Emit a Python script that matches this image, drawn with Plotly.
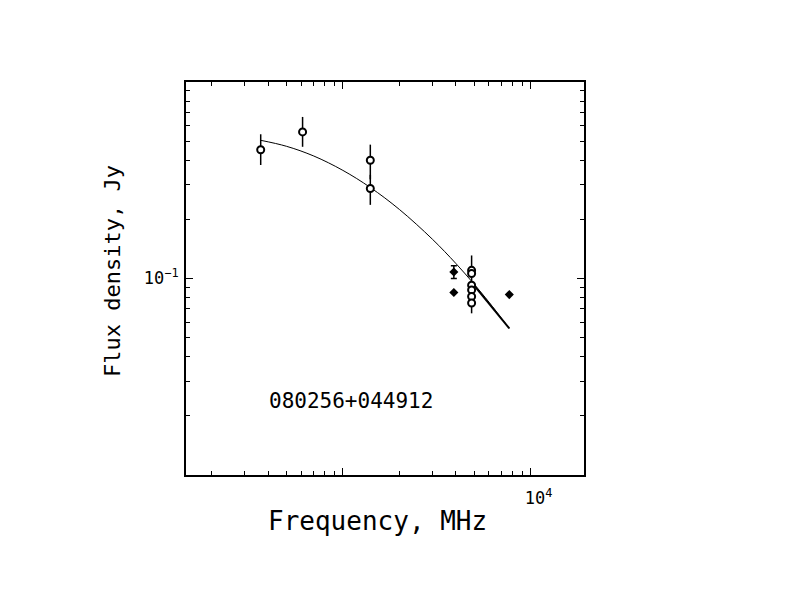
import plotly.graph_objects as go
import math

# Open-circle measurements (MHz, Jy)
circ_freq = [365, 610, 1400, 1400, 4850, 4850, 4850, 4850, 4850, 4850]
circ_flux = [0.452, 0.557, 0.400, 0.287, 0.110, 0.106, 0.0925, 0.0875, 0.081, 0.075]
circ_err_plus = [0.09, 0.107, 0.08, 0.05, 0, 0, 0.0385, 0, 0, 0]
circ_err_minus = [0.074, 0.089, 0.08, 0.05, 0, 0, 0.026, 0, 0, 0]

# Filled-diamond measurements
dia_freq = [3900, 3900, 7700]
dia_flux = [0.108, 0.0849, 0.0828]
dia_err = [0.008, 0, 0]

# Fitted curve
fit_freq = [365, 500, 700, 1000, 1400, 2000, 3000, 4000, 5000, 6000, 7700]
fit_flux = [0.505, 0.471, 0.420, 0.355, 0.2905, 0.2246, 0.1584, 0.1192, 0.0936, 0.0758, 0.0557]

# Straight high-frequency segment
seg_freq = [4900, 7700]
seg_flux = [0.0945, 0.0557]

x_major = [1000, 10000]
x_major_text = ["", "10<sup>4</sup>"]
x_minor = [200, 300, 400, 500, 600, 700, 800, 900,
           2000, 3000, 4000, 5000, 6000, 7000, 8000, 9000]
y_major = [0.01, 0.1, 1]
y_major_text = ["", "10<sup>\u22121</sup>", ""]
y_minor = [0.02, 0.03, 0.04, 0.05, 0.06, 0.07, 0.08, 0.09,
           0.2, 0.3, 0.4, 0.5, 0.6, 0.7, 0.8, 0.9]

source_name = "080256+044912"
x_title = "Frequency, MHz"
y_title = "Flux density, Jy"

FONT = "DejaVu Sans Mono"

fig = go.Figure()

fig.add_trace(go.Scatter(
    x=fit_freq, y=fit_flux, mode="lines", line=dict(color="black", width=1, shape="spline"),
    showlegend=False, hoverinfo="skip"))

fig.add_trace(go.Scatter(
    x=seg_freq, y=seg_flux, mode="lines", line=dict(color="black", width=2),
    showlegend=False, hoverinfo="skip"))

fig.add_trace(go.Scatter(
    x=circ_freq, y=circ_flux, mode="markers",
    marker=dict(symbol="circle", size=7, color="white", line=dict(color="black", width=2)),
    error_y=dict(type="data", symmetric=False, array=circ_err_plus, arrayminus=circ_err_minus,
                 color="black", thickness=1.5, width=0),
    showlegend=False))

fig.add_trace(go.Scatter(
    x=dia_freq, y=dia_flux, mode="markers",
    marker=dict(symbol="diamond", size=7, color="black"),
    error_y=dict(type="data", array=dia_err, color="black", thickness=1.5, width=3),
    showlegend=False))

fig.add_annotation(text=source_name, xref="paper", yref="paper", x=0.4146, y=0.188,
                   showarrow=False, font=dict(family=FONT, size=21, color="black"),
                   xanchor="center", yanchor="middle")
fig.add_annotation(text=x_title, xref="paper", yref="paper", x=0.48, y=-0.117,
                   showarrow=False, font=dict(family=FONT, size=26, color="black"),
                   xanchor="center", yanchor="middle")
fig.add_annotation(text=y_title, xref="paper", yref="paper", x=-0.186, y=0.519,
                   showarrow=False, textangle=-90, font=dict(family=FONT, size=22, color="black"),
                   xanchor="center", yanchor="middle")

axis_common = dict(
    type="log", showgrid=False, zeroline=False, showline=True, linecolor="black", linewidth=2,
    mirror="ticks", ticks="inside", ticklen=7, tickwidth=1, tickcolor="black",
    tickfont=dict(family=FONT, size=17, color="black"), tickmode="array",
)

fig.update_xaxes(
    **axis_common,
    range=[math.log10(146), math.log10(19250)],
    tickvals=x_major, ticktext=x_major_text,
    ticklabelstandoff=7, ticklabelshift=8,
    minor=dict(tickmode="array", tickvals=x_minor, ticks="inside", ticklen=4,
               tickcolor="black", tickwidth=1, showgrid=False),
)
fig.update_yaxes(
    **axis_common,
    range=[-2, 0],
    tickvals=y_major, ticktext=y_major_text,
    ticklabelstandoff=2,
    minor=dict(tickmode="array", tickvals=y_minor, ticks="inside", ticklen=4,
               tickcolor="black", tickwidth=1, showgrid=False),
)

fig.update_layout(
    width=792, height=612,
    margin=dict(l=178, r=216, t=74, b=145, autoexpand=False),
    paper_bgcolor="white", plot_bgcolor="white",
    showlegend=False,
)

fig.write_html("out.html")
